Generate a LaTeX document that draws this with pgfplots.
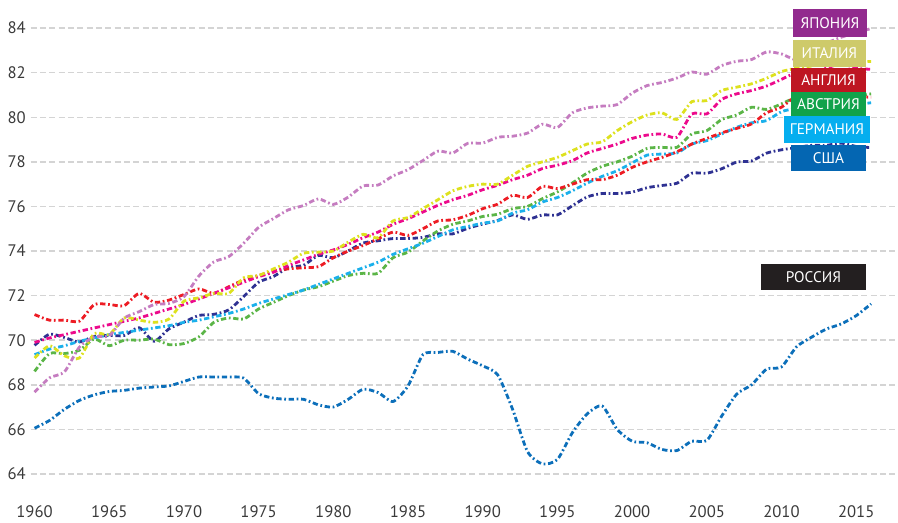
\documentclass[border=0pt]{standalone}
\usepackage{pgfplots}
\usepackage{pgfplotstable}
\pgfplotsset{compat=1.18}
\usepackage{fontspec}
\setmainfont{PT Sans}
\definecolor{cjp}{HTML}{C57CC0}
\definecolor{cit}{HTML}{DDE11E}
\definecolor{cfr}{HTML}{EC0A8C}
\definecolor{cuk}{HTML}{ED1C24}
\definecolor{cat}{HTML}{5BB547}
\definecolor{cde}{HTML}{1BB0EB}
\definecolor{cus}{HTML}{2E3192}
\definecolor{cru}{HTML}{0C6FBA}
\definecolor{bjp}{HTML}{922A8E}
\definecolor{bit}{HTML}{CECA6A}
\definecolor{buk}{HTML}{BE1622}
\definecolor{bat}{HTML}{11A24B}
\definecolor{bde}{HTML}{05AEEF}
\definecolor{bus}{HTML}{0466B2}
\definecolor{bru}{HTML}{231F20}
\definecolor{gridgray}{HTML}{D4D4D4}
\definecolor{ticktext}{HTML}{3A3A3A}
\pgfplotstableread{
year jp it fr uk at de us ru
1960 67.67 69.20 69.90 71.15 68.60 69.35 69.77 66.05
1961 68.31 69.75 70.10 70.90 69.40 69.60 70.27 66.40
1962 68.58 69.30 70.25 70.90 69.40 69.75 70.12 66.90
1963 69.69 69.20 70.40 70.85 69.55 69.95 69.92 67.30
1964 70.15 70.30 70.55 71.60 70.05 70.10 70.17 67.55
1965 70.20 70.25 70.70 71.60 69.75 70.25 70.21 67.70
1966 70.99 71.00 70.85 71.55 70.00 70.35 70.21 67.75
1967 71.28 70.90 71.00 72.10 70.00 70.45 70.56 67.85
1968 71.60 70.80 71.20 71.70 70.05 70.55 69.95 67.90
1969 71.65 70.95 71.40 71.80 69.80 70.65 70.51 67.95
1970 71.95 71.75 71.60 72.05 69.85 70.80 70.81 68.15
1971 72.88 71.90 71.85 72.30 70.15 70.90 71.11 68.35
1972 73.51 72.10 72.10 72.10 70.80 71.05 71.16 68.35
1973 73.75 72.10 72.35 72.40 71.00 71.20 71.36 68.35
1974 74.35 72.80 72.60 72.70 70.95 71.40 71.96 68.30
1975 75.06 72.90 72.85 72.90 71.40 71.65 72.60 67.60
1976 75.46 73.20 73.05 73.10 71.70 71.85 72.86 67.40
1977 75.85 73.50 73.35 73.20 72.00 72.05 73.26 67.35
1978 76.04 73.90 73.60 73.25 72.25 72.25 73.36 67.35
1979 76.34 73.95 73.85 73.30 72.40 72.50 73.80 67.10
1980 76.09 74.00 74.05 73.70 72.65 72.75 73.70 67.00
1981 76.42 74.40 74.30 74.00 72.90 73.00 74.01 67.35
1982 76.92 74.75 74.60 74.25 73.00 73.25 74.36 67.80
1983 76.96 74.60 74.85 74.55 73.00 73.50 74.46 67.65
1984 77.37 75.35 75.20 74.85 73.70 73.85 74.56 67.25
1985 77.65 75.50 75.45 74.70 73.95 74.10 74.56 67.95
1986 78.06 75.90 75.75 75.00 74.45 74.35 74.61 69.35
1987 78.48 76.30 76.05 75.35 74.90 74.65 74.77 69.45
1988 78.40 76.70 76.30 75.40 75.20 74.95 74.77 69.50
1989 78.83 76.90 76.50 75.60 75.35 75.10 75.02 69.15
1990 78.84 77.00 76.75 75.90 75.55 75.25 75.21 68.85
1991 79.10 77.00 76.95 76.10 75.65 75.35 75.37 68.45
1992 79.15 77.40 77.20 76.50 75.90 75.70 75.62 66.90
1993 79.29 77.80 77.40 76.40 76.00 75.85 75.42 65.00
1994 79.69 78.00 77.70 76.90 76.35 76.20 75.62 64.45
1995 79.54 78.20 77.85 76.80 76.65 76.40 75.62 64.65
1996 80.20 78.50 78.05 77.00 77.05 76.70 76.03 65.85
1997 80.42 78.80 78.40 77.20 77.50 77.05 76.43 66.70
1998 80.50 78.90 78.60 77.20 77.80 77.35 76.58 67.05
1999 80.57 79.40 78.80 77.40 78.00 77.60 76.58 66.00
2000 81.08 79.80 79.05 77.75 78.25 77.95 76.64 65.47
2001 81.42 80.10 79.20 78.00 78.60 78.30 76.84 65.40
2002 81.56 80.20 79.25 78.20 78.65 78.35 76.94 65.10
2003 81.76 79.90 79.10 78.45 78.65 78.40 77.04 65.05
2004 82.03 80.70 80.15 78.80 79.25 78.80 77.49 65.47
2005 81.93 80.75 80.15 79.05 79.40 78.95 77.49 65.50
2006 82.32 81.20 80.80 79.30 79.90 79.25 77.69 66.60
2007 82.51 81.35 81.05 79.50 80.10 79.55 77.99 67.58
2008 82.59 81.50 81.20 79.70 80.45 79.75 78.04 68.00
2009 82.93 81.75 81.40 80.20 80.35 79.85 78.39 68.70
2010 82.84 82.05 81.70 80.45 80.60 80.25 78.54 68.80
2011 82.59 82.20 82.00 80.95 80.90 80.40 78.64 69.70
2012 83.10 82.30 82.00 80.90 80.95 80.50 78.74 70.13
2013 83.33 82.50 82.20 81.00 81.00 80.50 78.74 70.50
2014 83.59 82.60 82.40 81.30 81.20 80.80 78.84 70.73
2015 83.79 82.50 82.20 80.95 81.00 80.60 78.69 71.10
2016 83.98 82.50 82.15 80.90 81.05 80.65 78.64 71.63
}\lifedata
\tikzset{
  lifeline/.style={line width=2.1pt, dash pattern=on 4pt off 2pt on 1.3pt off 2pt, smooth, tension=0.4, line join=round},
  ctry/.style={fill=#1, text=white, inner sep=0pt, font=\fontsize{11.5}{13}\selectfont, anchor=center}
}
\begin{document}
\begin{tikzpicture}
\begin{axis}[
  scale only axis,
  width=650.6pt, height=372.2pt,
  xmin=1959.73, xmax=2017.80,
  ymin=63, ymax=85.26,
  clip=false,
  axis line style={draw=none},
  tick style={draw=none},
  xtick={1960,1965,...,2015},
  ytick={64,66,...,84},
  ymajorgrids,
  major grid style={draw=gridgray, line width=1.1pt, dash pattern=on 4.5pt off 2.5pt},
  /pgf/number format/assume math mode=true,
  /pgf/number format/1000 sep={},
  ticklabel style={font=\fontsize{12.5}{14}\selectfont, text=ticktext},
  xticklabel style={anchor=base, yshift=-16.3pt},
]
\addplot[lifeline, color=cru] table[x=year, y=ru] {\lifedata};
\addplot[lifeline, color=cus] table[x=year, y=us] {\lifedata};
\addplot[lifeline, color=cat] table[x=year, y=at] {\lifedata};
\addplot[lifeline, color=cde] table[x=year, y=de] {\lifedata};
\addplot[lifeline, color=cuk] table[x=year, y=uk] {\lifedata};
\addplot[lifeline, color=cfr] table[x=year, y=fr] {\lifedata};
\addplot[lifeline, color=cit] table[x=year, y=it] {\lifedata};
\addplot[lifeline, color=cjp] table[x=year, y=jp] {\lifedata};
\node[ctry=bjp, minimum width=55.5pt, minimum height=21pt] at (axis cs:2013.25,84.22) {ЯПОНИЯ};
\node[ctry=bit, minimum width=54.75pt, minimum height=20.25pt] at (axis cs:2013.21,82.86) {ИТАЛИЯ};
\node[ctry=buk, minimum width=56.25pt, minimum height=18.75pt] at (axis cs:2013.15,81.65) {АНГЛИЯ};
\node[ctry=bat, minimum width=56.25pt, minimum height=18pt] at (axis cs:2013.15,80.59) {АВСТРИЯ};
\node[ctry=bde, minimum width=64.5pt, minimum height=20.25pt] at (axis cs:2013.05,79.45) {ГЕРМАНИЯ};
\node[ctry=bus, minimum width=56.25pt, minimum height=19.5pt] at (axis cs:2013.15,78.17) {США};
\node[ctry=bru, minimum width=78.75pt, minimum height=19.5pt] at (axis cs:2012.14,72.83) {РОССИЯ};
\end{axis}
\pgfresetboundingbox
\path ([shift={(-22.9pt,-20pt)}]current axis.south west) rectangle (current axis.north east);
\end{tikzpicture}
\end{document}
